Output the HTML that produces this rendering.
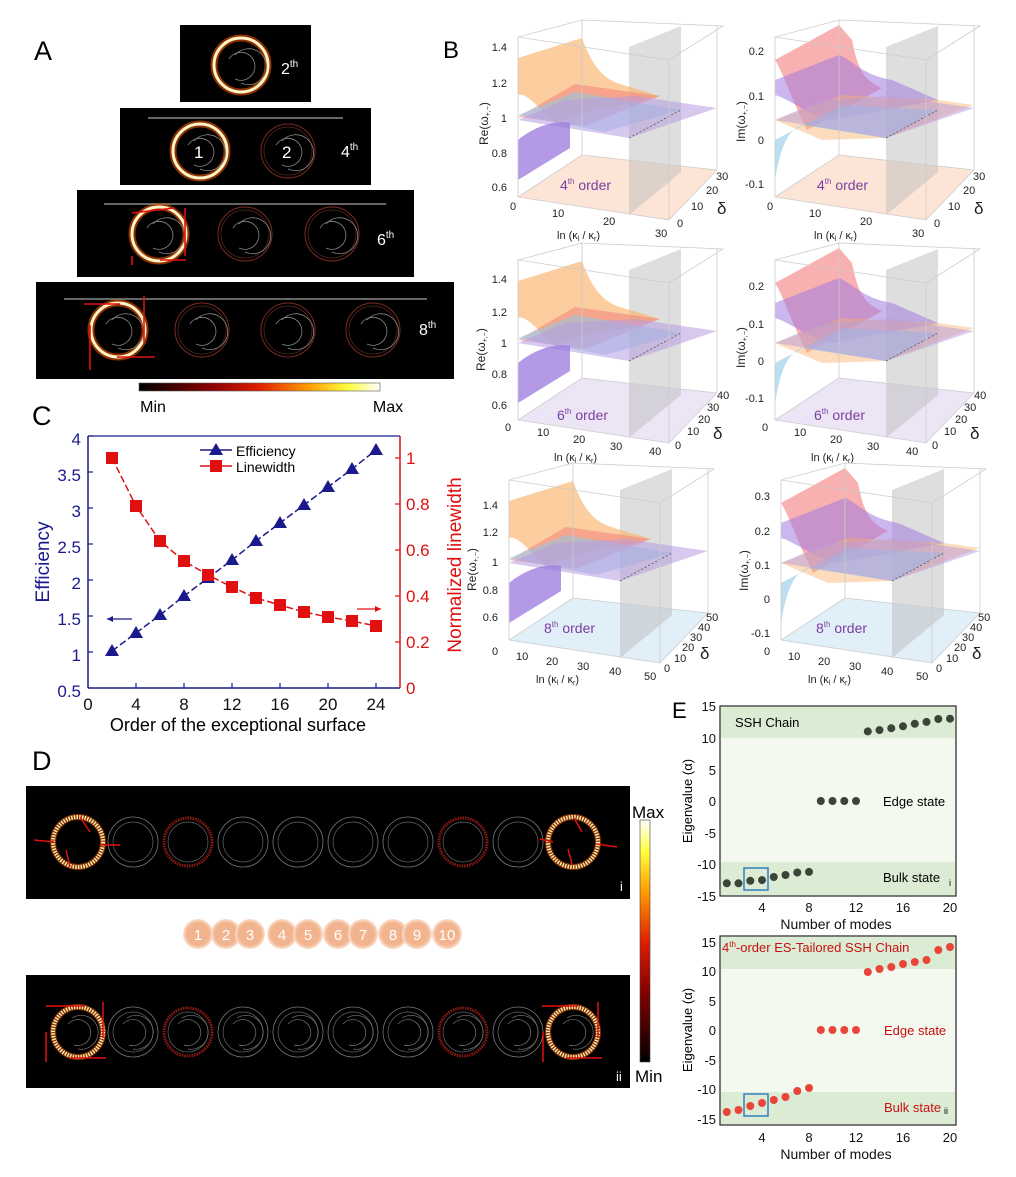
<!DOCTYPE html>
<html><head><meta charset="utf-8"><style>
html,body{margin:0;padding:0;background:#fff}
svg{display:block;font-family:"Liberation Sans",sans-serif}
</style></head><body>
<svg width="1016" height="1177" viewBox="0 0 1016 1177" xmlns="http://www.w3.org/2000/svg">
<defs>
<linearGradient id="hbar" x1="0" x2="1" y1="0" y2="0">
<stop offset="0" stop-color="#000"/><stop offset="0.3" stop-color="#8a0000"/><stop offset="0.5" stop-color="#e02000"/><stop offset="0.7" stop-color="#ff9a00"/><stop offset="0.87" stop-color="#ffff40"/><stop offset="1" stop-color="#fff"/></linearGradient>
<linearGradient id="vbar" x1="0" x2="0" y1="1" y2="0">
<stop offset="0" stop-color="#000"/><stop offset="0.3" stop-color="#8a0000"/><stop offset="0.5" stop-color="#e02000"/><stop offset="0.7" stop-color="#ff9a00"/><stop offset="0.87" stop-color="#ffff40"/><stop offset="1" stop-color="#fff"/></linearGradient>
<radialGradient id="pch"><stop offset="0.75" stop-color="#f2b48e"/><stop offset="1" stop-color="#fbe0cf"/></radialGradient>
<g id="box">
<path d="M63,177 L214,200 L262,150 M63,177 L127,135 L262,150 M127,135 L127,0 M63,177 L63,17 L127,0 L268,6 L214,40 L63,17 M214,40 L214,200 M262,6 L262,150" fill="none" stroke="#ccc" stroke-width="0.8"/>
</g>
<g id="gray"><path d="M174,195 L174,27 L226,6 L226,152 Z" fill="#bdbdbd" opacity="0.5"/></g>
<g id="reS">
<path d="M63,38 L127,18 C135,40 145,58 165,64 L205,76 L165,86 C140,88 120,95 100,103 C85,90 72,72 63,75 Z" fill="#f9b26b" opacity="0.65"/>
<path d="M63,97 L120,64 L205,76 L130,106 Z" fill="#f47c7c" opacity="0.5"/>
<path d="M63,95 L120,72 L226,90 L150,112 Z" fill="#8ec9e8" opacity="0.55"/>
<path d="M63,100 L174,118 L262,88 L180,76 L110,80 Z" fill="#b79ae0" opacity="0.55"/>
<path d="M63,160 L63,120 C80,106 100,100 115,103 L115,128 Z" fill="#9b77dd" opacity="0.75"/>
<path d="M174,118 L226,90" stroke="#555" stroke-width="0.8" stroke-dasharray="2,2"/>
</g>
<g id="imS">
<path d="M63,40 L127,5 L140,20 C145,45 150,60 170,68 L95,110 C80,80 70,50 63,40Z" fill="#f47c7c" opacity="0.6"/>
<path d="M63,60 L127,35 C140,40 150,55 180,60 L226,80 L120,100 C95,95 80,80 63,75Z" fill="#a07ae0" opacity="0.55"/>
<path d="M63,100 L130,75 L226,80 L262,85 L174,118 L110,120 Z" fill="#f9b26b" opacity="0.45"/>
<path d="M63,160 C68,130 75,110 90,105 L174,118 L226,90 L130,85 L63,120 Z" fill="#8ec9e8" opacity="0.6"/>
<path d="M63,100 L174,118 L262,88 L180,76 L110,80 Z" fill="#b79ae0" opacity="0.5"/>
<path d="M174,118 L226,90" stroke="#555" stroke-width="0.8" stroke-dasharray="2,2"/>
</g>
<g id="floorP"><path d="M63,177 L214,200 L262,150 L127,135 Z" fill="#fbd9c4" opacity="0.7"/></g>
<g id="floorV"><path d="M63,177 L214,200 L262,150 L127,135 Z" fill="#e4daf2" opacity="0.7"/></g>
<g id="floorB"><path d="M63,177 L214,200 L262,150 L127,135 Z" fill="#d9ebf8" opacity="0.8"/></g>
<g id="bright"><circle r="27" fill="none" stroke="#ff5a00" stroke-width="7" opacity="0.55"/><circle r="27" fill="none" stroke="#fff3c8" stroke-width="3"/><path d="M-12,-6 A14,14 0 1,1 -6,14" fill="none" stroke="#888" stroke-width="0.8"/><path d="M-6,-10 A18,18 0 1,1 0,18" fill="none" stroke="#888" stroke-width="0.8"/></g>
<g id="dim"><circle r="27" fill="none" stroke="#7a2a20" stroke-width="1"/><circle r="24" fill="none" stroke="#5a2a20" stroke-width="0.7"/><path d="M-12,-6 A14,14 0 1,1 -6,14" fill="none" stroke="#888" stroke-width="0.8"/><path d="M-6,-10 A18,18 0 1,1 0,18" fill="none" stroke="#888" stroke-width="0.8"/></g>
<g id="dgray"><circle r="25" fill="none" stroke="#777" stroke-width="0.8"/><circle r="20" fill="none" stroke="#666" stroke-width="0.7"/></g>
<g id="dred"><circle r="24" fill="none" stroke="#8a1a10" stroke-width="3" stroke-dasharray="1.5,1"/><circle r="20" fill="none" stroke="#666" stroke-width="0.7"/></g>
<g id="dbright"><circle r="25" fill="none" stroke="#ff6000" stroke-width="6" opacity="0.5"/><circle r="25" fill="none" stroke="#ffe9b0" stroke-width="4" stroke-dasharray="1.5,1.2"/></g>
<g id="dspiral"><path d="M-10,-8 A13,13 0 1,1 -4,13" fill="none" stroke="#777" stroke-width="0.7"/><path d="M-6,-14 A17,17 0 1,1 0,17" fill="none" stroke="#777" stroke-width="0.7"/></g>
</defs>

<!-- Panel A -->
<text x="34" y="60" font-size="27">A</text>
<rect x="180" y="25" width="131" height="77" fill="#000"/>
<rect x="120" y="108" width="251" height="77" fill="#000"/>
<rect x="77" y="190" width="337" height="87" fill="#000"/>
<rect x="36" y="282" width="418" height="97" fill="#000"/>
<use href="#bright" x="241" y="65"/>
<text x="281" y="74" fill="#fff" font-size="16">2<tspan dy="-7" font-size="10">th</tspan></text>
<line x1="148" y1="118" x2="343" y2="118" stroke="#888" stroke-width="1.5"/>
<use href="#bright" x="200" y="151"/><use href="#dim" x="288" y="151"/>
<text x="194" y="158" fill="#fff" font-size="17">1</text><text x="282" y="158" fill="#fff" font-size="17">2</text>
<text x="341" y="157" fill="#fff" font-size="16">4<tspan dy="-7" font-size="10">th</tspan></text>
<line x1="104" y1="204" x2="386" y2="204" stroke="#888" stroke-width="1.5"/>
<use href="#bright" x="159" y="234"/><use href="#dim" x="245" y="234"/><use href="#dim" x="332" y="234"/>
<text x="377" y="245" fill="#fff" font-size="16">6<tspan dy="-7" font-size="10">th</tspan></text>
<line x1="64" y1="299" x2="427" y2="299" stroke="#888" stroke-width="1.5"/>
<use href="#bright" x="118" y="330"/><use href="#dim" x="202" y="330"/><use href="#dim" x="288" y="330"/><use href="#dim" x="373" y="330"/>
<text x="419" y="335" fill="#fff" font-size="16">8<tspan dy="-7" font-size="10">th</tspan></text>
<g stroke="#e01010" stroke-width="1.6" fill="#e01010">
<line x1="132" y1="213" x2="174" y2="208"/><line x1="185" y1="208" x2="185" y2="256"/><line x1="132" y1="256" x2="132" y2="265"/><line x1="160" y1="260" x2="186" y2="260"/>
<line x1="84" y1="304" x2="120" y2="304"/><line x1="144" y1="296" x2="144" y2="343"/><line x1="90" y1="325" x2="90" y2="370"/><line x1="117" y1="357" x2="155" y2="357"/>
</g>
<rect x="139" y="383" width="241" height="8" fill="url(#hbar)" stroke="#555" stroke-width="0.6"/>
<text x="153" y="412" font-size="16" text-anchor="middle">Min</text>
<text x="388" y="412" font-size="16" text-anchor="middle">Max</text>

<!-- Panel B -->
<text x="443" y="58" font-size="24">B</text>
<g font-size="11" fill="#222">
<g transform="translate(455,20)"><use href="#floorP"/><use href="#gray"/><use href="#reS"/><use href="#box"/>
<text x="52" y="31" text-anchor="end">1.4</text><text x="52" y="67" text-anchor="end">1.2</text><text x="52" y="102" text-anchor="end">1</text><text x="52" y="137" text-anchor="end">0.8</text><text x="52" y="171" text-anchor="end">0.6</text>
<text x="55" y="190">0</text><text x="97" y="197">10</text><text x="148" y="205">20</text><text x="200" y="217">30</text><text x="222" y="207">0</text><text x="236" y="190">10</text><text x="251" y="174">20</text><text x="261" y="160">30</text>
<text x="262" y="194" font-size="17">δ</text><text x="102" y="219">ln (κ<tspan font-size="7" dy="2">l</tspan><tspan dy="-2"> / κ</tspan><tspan font-size="7" dy="2">r</tspan><tspan dy="-2">)</tspan></text>
<text transform="translate(33,125) rotate(-90)" font-size="12">Re(ω<tspan font-size="7" dy="2">+,−</tspan><tspan dy="-2">)</tspan></text>
<text x="105" y="170" font-size="14" fill="#7b3fa0">4<tspan font-size="8" dy="-6">th</tspan><tspan dy="6"> order</tspan></text></g>
<g transform="translate(712,20)"><use href="#floorP"/><use href="#gray"/><use href="#imS"/><use href="#box"/>
<text x="52" y="35" text-anchor="end">0.2</text><text x="52" y="80" text-anchor="end">0.1</text><text x="52" y="124" text-anchor="end">0</text><text x="52" y="168" text-anchor="end">-0.1</text>
<text x="55" y="190">0</text><text x="97" y="197">10</text><text x="148" y="205">20</text><text x="200" y="217">30</text><text x="222" y="207">0</text><text x="236" y="190">10</text><text x="251" y="174">20</text><text x="261" y="160">30</text>
<text x="262" y="194" font-size="17">δ</text><text x="102" y="219">ln (κ<tspan font-size="7" dy="2">l</tspan><tspan dy="-2"> / κ</tspan><tspan font-size="7" dy="2">r</tspan><tspan dy="-2">)</tspan></text>
<text transform="translate(33,122) rotate(-90)" font-size="12">Im(ω<tspan font-size="7" dy="2">+,−</tspan><tspan dy="-2">)</tspan></text>
<text x="105" y="170" font-size="14" fill="#7b3fa0">4<tspan font-size="8" dy="-6">th</tspan><tspan dy="6"> order</tspan></text></g>
<g transform="translate(455,243)"><use href="#floorV"/><use href="#gray"/><use href="#reS"/><use href="#box"/>
<text x="52" y="40" text-anchor="end">1.4</text><text x="52" y="73" text-anchor="end">1.2</text><text x="52" y="104" text-anchor="end">1</text><text x="52" y="135" text-anchor="end">0.8</text><text x="52" y="166" text-anchor="end">0.6</text>
<text x="50" y="188">0</text><text x="82" y="193">10</text><text x="118" y="200">20</text><text x="155" y="207">30</text><text x="194" y="212">40</text><text x="220" y="206">0</text><text x="232" y="192">10</text><text x="243" y="180">20</text><text x="252" y="168">30</text><text x="262" y="156">40</text>
<text x="258" y="196" font-size="17">δ</text><text x="99" y="218">ln (κ<tspan font-size="7" dy="2">l</tspan><tspan dy="-2"> / κ</tspan><tspan font-size="7" dy="2">r</tspan><tspan dy="-2">)</tspan></text>
<text transform="translate(30,128) rotate(-90)" font-size="12">Re(ω<tspan font-size="7" dy="2">+,−</tspan><tspan dy="-2">)</tspan></text>
<text x="102" y="177" font-size="14" fill="#7b3fa0">6<tspan font-size="8" dy="-6">th</tspan><tspan dy="6"> order</tspan></text></g>
<g transform="translate(712,243)"><use href="#floorV"/><use href="#gray"/><use href="#imS"/><use href="#box"/>
<text x="52" y="47" text-anchor="end">0.2</text><text x="52" y="85" text-anchor="end">0.1</text><text x="52" y="122" text-anchor="end">0</text><text x="52" y="159" text-anchor="end">-0.1</text>
<text x="50" y="188">0</text><text x="82" y="193">10</text><text x="118" y="200">20</text><text x="155" y="207">30</text><text x="194" y="212">40</text><text x="220" y="206">0</text><text x="232" y="192">10</text><text x="243" y="180">20</text><text x="252" y="168">30</text><text x="262" y="156">40</text>
<text x="258" y="196" font-size="17">δ</text><text x="99" y="218">ln (κ<tspan font-size="7" dy="2">l</tspan><tspan dy="-2"> / κ</tspan><tspan font-size="7" dy="2">r</tspan><tspan dy="-2">)</tspan></text>
<text transform="translate(33,125) rotate(-90)" font-size="12">Im(ω<tspan font-size="7" dy="2">+,−</tspan><tspan dy="-2">)</tspan></text>
<text x="102" y="177" font-size="14" fill="#7b3fa0">6<tspan font-size="8" dy="-6">th</tspan><tspan dy="6"> order</tspan></text></g>
<g transform="translate(446,463)"><use href="#floorB"/><use href="#gray"/><use href="#reS"/><use href="#box"/>
<text x="52" y="46" text-anchor="end">1.4</text><text x="52" y="73" text-anchor="end">1.2</text><text x="52" y="103" text-anchor="end">1</text><text x="52" y="131" text-anchor="end">0.8</text><text x="52" y="158" text-anchor="end">0.6</text>
<text x="46" y="192">0</text><text x="70" y="197">10</text><text x="100" y="202">20</text><text x="131" y="207">30</text><text x="163" y="212">40</text><text x="198" y="217">50</text><text x="218" y="209">0</text><text x="228" y="199">10</text><text x="236" y="188">20</text><text x="244" y="178">30</text><text x="252" y="168">40</text><text x="260" y="158">50</text>
<text x="254" y="196" font-size="17">δ</text><text x="90" y="220">ln (κ<tspan font-size="7" dy="2">l</tspan><tspan dy="-2"> / κ</tspan><tspan font-size="7" dy="2">r</tspan><tspan dy="-2">)</tspan></text>
<text transform="translate(30,128) rotate(-90)" font-size="12">Re(ω<tspan font-size="7" dy="2">+,−</tspan><tspan dy="-2">)</tspan></text>
<text x="98" y="170" font-size="14" fill="#7b3fa0">8<tspan font-size="8" dy="-6">th</tspan><tspan dy="6"> order</tspan></text></g>
<g transform="translate(718,463)"><use href="#floorB"/><use href="#gray"/><use href="#imS"/><use href="#box"/>
<text x="52" y="37" text-anchor="end">0.3</text><text x="52" y="72" text-anchor="end">0.2</text><text x="52" y="106" text-anchor="end">0.1</text><text x="52" y="140" text-anchor="end">0</text><text x="52" y="174" text-anchor="end">-0.1</text>
<text x="46" y="192">0</text><text x="70" y="197">10</text><text x="100" y="202">20</text><text x="131" y="207">30</text><text x="163" y="212">40</text><text x="198" y="217">50</text><text x="218" y="209">0</text><text x="228" y="199">10</text><text x="236" y="188">20</text><text x="244" y="178">30</text><text x="252" y="168">40</text><text x="260" y="158">50</text>
<text x="254" y="196" font-size="17">δ</text><text x="90" y="220">ln (κ<tspan font-size="7" dy="2">l</tspan><tspan dy="-2"> / κ</tspan><tspan font-size="7" dy="2">r</tspan><tspan dy="-2">)</tspan></text>
<text transform="translate(30,128) rotate(-90)" font-size="12">Im(ω<tspan font-size="7" dy="2">+,−</tspan><tspan dy="-2">)</tspan></text>
<text x="98" y="170" font-size="14" fill="#7b3fa0">8<tspan font-size="8" dy="-6">th</tspan><tspan dy="6"> order</tspan></text></g>
</g>

<!-- Panel C -->
<text x="32" y="425" font-size="27">C</text>
<line x1="88" y1="436" x2="400" y2="436" stroke="#1a1a8c" stroke-width="1.3"/>
<line x1="88" y1="436" x2="88" y2="688" stroke="#1a1a8c" stroke-width="1.5"/>
<line x1="88" y1="688" x2="400" y2="688" stroke="#1a1a8c" stroke-width="1.5"/>
<line x1="400" y1="436" x2="400" y2="688" stroke="#e01010" stroke-width="1.5"/>
<g stroke="#1a1a8c" stroke-width="1.2">
<line x1="88" y1="436" x2="93" y2="436"/><line x1="88" y1="472" x2="93" y2="472"/><line x1="88" y1="508" x2="93" y2="508"/><line x1="88" y1="544" x2="93" y2="544"/><line x1="88" y1="580" x2="93" y2="580"/><line x1="88" y1="616" x2="93" y2="616"/><line x1="88" y1="652" x2="93" y2="652"/>
<line x1="136" y1="688" x2="136" y2="683"/><line x1="184" y1="688" x2="184" y2="683"/><line x1="232" y1="688" x2="232" y2="683"/><line x1="280" y1="688" x2="280" y2="683"/><line x1="328" y1="688" x2="328" y2="683"/><line x1="376" y1="688" x2="376" y2="683"/>
</g>
<g stroke="#e01010" stroke-width="1.2"><line x1="400" y1="458" x2="395" y2="458"/><line x1="400" y1="504" x2="395" y2="504"/><line x1="400" y1="550" x2="395" y2="550"/><line x1="400" y1="596" x2="395" y2="596"/><line x1="400" y1="642" x2="395" y2="642"/></g>
<g fill="#1a1a8c" font-size="17" text-anchor="end">
<text x="81" y="445">4</text><text x="81" y="481">3.5</text><text x="81" y="517">3</text><text x="81" y="553">2.5</text><text x="81" y="589">2</text><text x="81" y="625">1.5</text><text x="81" y="661">1</text><text x="81" y="697">0.5</text></g>
<g font-size="17" text-anchor="middle" fill="#111">
<text x="88" y="710">0</text><text x="136" y="710">4</text><text x="184" y="710">8</text><text x="232" y="710">12</text><text x="280" y="710">16</text><text x="328" y="710">20</text><text x="376" y="710">24</text></g>
<g fill="#e01010" font-size="17"><text x="406" y="464">1</text><text x="406" y="510">0.8</text><text x="406" y="556">0.6</text><text x="406" y="602">0.4</text><text x="406" y="648">0.2</text><text x="406" y="694">0</text></g>
<text x="238" y="731" font-size="18" text-anchor="middle">Order of the exceptional surface</text>
<text transform="translate(49,562) rotate(-90)" font-size="19" fill="#1a1a8c" text-anchor="middle">Efficiency</text>
<text transform="translate(461,565) rotate(-90)" font-size="19" fill="#e01010" text-anchor="middle">Normalized linewidth</text>
<polyline points="112,651 136,633 160,615 184,596 208,578 232,560 256,541 280,523 304,505 328,487 352,469 376,450" fill="none" stroke="#1a1a8c" stroke-width="1.5" stroke-dasharray="7,3"/>
<g fill="#1a1a8c">
<path d="M112,644 l-7,12 h14z"/><path d="M136,626 l-7,12 h14z"/><path d="M160,608 l-7,12 h14z"/><path d="M184,589 l-7,12 h14z"/><path d="M208,571 l-7,12 h14z"/><path d="M232,553 l-7,12 h14z"/><path d="M256,534 l-7,12 h14z"/><path d="M280,516 l-7,12 h14z"/><path d="M304,498 l-7,12 h14z"/><path d="M328,480 l-7,12 h14z"/><path d="M352,462 l-7,12 h14z"/><path d="M376,443 l-7,12 h14z"/></g>
<polyline points="112,458 136,506 160,541 184,561 208,575 232,587 256,598 280,605 304,612 328,617 352,621 376,626" fill="none" stroke="#e01010" stroke-width="1.5" stroke-dasharray="7,3"/>
<g fill="#e01010">
<rect x="106" y="452" width="12" height="12"/><rect x="130" y="500" width="12" height="12"/><rect x="154" y="535" width="12" height="12"/><rect x="178" y="555" width="12" height="12"/><rect x="202" y="569" width="12" height="12"/><rect x="226" y="581" width="12" height="12"/><rect x="250" y="592" width="12" height="12"/><rect x="274" y="599" width="12" height="12"/><rect x="298" y="606" width="12" height="12"/><rect x="322" y="611" width="12" height="12"/><rect x="346" y="615" width="12" height="12"/><rect x="370" y="620" width="12" height="12"/></g>
<line x1="200" y1="450" x2="232" y2="450" stroke="#1a1a8c" stroke-width="1.5"/><path d="M216,443 l-7,12 h14z" fill="#1a1a8c"/>
<text x="236" y="456" font-size="14">Efficiency</text>
<line x1="200" y1="466" x2="232" y2="466" stroke="#e01010" stroke-width="1.5"/><rect x="210" y="460" width="12" height="12" fill="#e01010"/>
<text x="236" y="472" font-size="14">Linewidth</text>
<line x1="107" y1="619" x2="132" y2="619" stroke="#1a1a8c" stroke-width="1.2"/><path d="M107,619 l6,-3 v6z" fill="#1a1a8c"/>
<line x1="357" y1="609" x2="381" y2="609" stroke="#e01010" stroke-width="1.2"/><path d="M381,609 l-6,-3 v6z" fill="#e01010"/>

<!-- Panel D -->
<text x="32" y="770" font-size="27">D</text>
<rect x="26" y="786" width="604" height="113" fill="#000"/>
<rect x="26" y="975" width="604" height="113" fill="#000"/>
<g transform="translate(0,842)">
<use href="#dbright" x="78"/><use href="#dgray" x="133"/><use href="#dred" x="188"/><use href="#dgray" x="243"/><use href="#dgray" x="298"/><use href="#dgray" x="353"/><use href="#dgray" x="408"/><use href="#dred" x="463"/><use href="#dgray" x="518"/><use href="#dbright" x="573"/>
<g stroke="#e01010" stroke-width="1.5"><line x1="34" y1="-2" x2="54" y2="0"/><line x1="100" y1="3" x2="120" y2="3"/><line x1="80" y1="-25" x2="90" y2="-10"/><line x1="70" y1="25" x2="66" y2="8"/><line x1="540" y1="-3" x2="553" y2="0"/><line x1="597" y1="2" x2="617" y2="5"/><line x1="574" y1="-24" x2="582" y2="-10"/><line x1="572" y1="22" x2="568" y2="7"/></g>
</g>
<g transform="translate(0,1032)">
<use href="#dbright" x="78"/><use href="#dspiral" x="78"/><use href="#dgray" x="133"/><use href="#dspiral" x="133"/><use href="#dred" x="188"/><use href="#dspiral" x="188"/><use href="#dgray" x="243"/><use href="#dspiral" x="243"/><use href="#dgray" x="298"/><use href="#dspiral" x="298"/><use href="#dgray" x="353"/><use href="#dspiral" x="353"/><use href="#dgray" x="408"/><use href="#dspiral" x="408"/><use href="#dred" x="463"/><use href="#dspiral" x="463"/><use href="#dgray" x="518"/><use href="#dspiral" x="518"/><use href="#dbright" x="573"/><use href="#dspiral" x="573"/>
<g stroke="#e01010" stroke-width="1.5"><line x1="46" y1="-26" x2="84" y2="-26"/><line x1="103" y1="-30" x2="103" y2="6"/><line x1="46" y1="0" x2="46" y2="30"/><line x1="70" y1="26" x2="106" y2="26"/><line x1="542" y1="-26" x2="578" y2="-26"/><line x1="598" y1="-30" x2="598" y2="6"/><line x1="543" y1="0" x2="543" y2="30"/><line x1="567" y1="26" x2="602" y2="26"/></g>
</g>
<text x="620" y="891" fill="#fff" font-size="13">i</text>
<text x="616" y="1081" fill="#fff" font-size="13">ii</text>
<rect x="640" y="820" width="10" height="242" fill="url(#vbar)" stroke="#444" stroke-width="0.6"/>
<text x="632" y="818" font-size="17">Max</text>
<text x="635" y="1082" font-size="17">Min</text>
<g font-size="15" fill="#fff" text-anchor="middle">
<circle cx="198" cy="934" r="15" fill="url(#pch)"/><circle cx="226" cy="934" r="15" fill="url(#pch)"/><circle cx="250" cy="934" r="15" fill="url(#pch)"/><circle cx="282" cy="934" r="15" fill="url(#pch)"/><circle cx="308" cy="934" r="15" fill="url(#pch)"/><circle cx="338" cy="934" r="15" fill="url(#pch)"/><circle cx="363" cy="934" r="15" fill="url(#pch)"/><circle cx="393" cy="934" r="15" fill="url(#pch)"/><circle cx="417" cy="934" r="15" fill="url(#pch)"/><circle cx="447" cy="934" r="15" fill="url(#pch)"/>
<text x="198" y="940">1</text><text x="226" y="940">2</text><text x="250" y="940">3</text><text x="282" y="940">4</text><text x="308" y="940">5</text><text x="338" y="940">6</text><text x="363" y="940">7</text><text x="393" y="940">8</text><text x="417" y="940">9</text><text x="447" y="940">10</text></g>

<!-- Panel E -->
<text x="672" y="718" font-size="22">E</text>
<rect x="720" y="706" width="236" height="190" fill="#f4f9f0" stroke="#222" stroke-width="1.2"/>
<rect x="721" y="707" width="234" height="31" fill="#dcebd3"/>
<rect x="721" y="862" width="234" height="33" fill="#dcebd3"/>
<rect x="720" y="936" width="236" height="189" fill="#f4f9f0" stroke="#222" stroke-width="1.2"/>
<rect x="721" y="937" width="234" height="32" fill="#dcebd3"/>
<rect x="721" y="1092" width="234" height="32" fill="#dcebd3"/>
<g font-size="13" text-anchor="end" fill="#111">
<text x="716" y="711">15</text><text x="716" y="743">10</text><text x="716" y="775">5</text><text x="716" y="806">0</text><text x="716" y="838">-5</text><text x="716" y="869">-10</text><text x="716" y="901">-15</text>
<text x="716" y="947">15</text><text x="716" y="976">10</text><text x="716" y="1006">5</text><text x="716" y="1035">0</text><text x="716" y="1065">-5</text><text x="716" y="1094">-10</text><text x="716" y="1124">-15</text></g>
<g font-size="13" text-anchor="middle" fill="#111">
<text x="762" y="912">4</text><text x="809" y="912">8</text><text x="856" y="912">12</text><text x="903" y="912">16</text><text x="950" y="912">20</text>
<text x="762" y="1142">4</text><text x="809" y="1142">8</text><text x="856" y="1142">12</text><text x="903" y="1142">16</text><text x="950" y="1142">20</text>
<text x="836" y="929" font-size="14">Number of modes</text><text x="836" y="1159" font-size="14">Number of modes</text></g>
<text transform="translate(692,801) rotate(-90)" font-size="13" text-anchor="middle">Eigenvalue (α)</text>
<text transform="translate(692,1030) rotate(-90)" font-size="13" text-anchor="middle">Eigenvalue (α)</text>
<text x="735" y="727" font-size="13">SSH Chain</text>
<text x="883" y="806" font-size="13">Edge state</text>
<text x="883" y="882" font-size="13">Bulk state</text><text x="949" y="886" font-size="9">i</text>
<text x="722" y="952" font-size="13" fill="#c81010">4<tspan font-size="8" dy="-5">th</tspan><tspan dy="5">-order ES-Tailored SSH Chain</tspan></text>
<text x="884" y="1035" font-size="13" fill="#c81010">Edge state</text>
<text x="884" y="1112" font-size="13" fill="#c81010">Bulk state</text><text x="944" y="1114" font-size="9">ii</text>
<g fill="#3a4438">
<circle cx="726.8" cy="883.3" r="4"/><circle cx="738.5" cy="883.3" r="4"/><circle cx="750.3" cy="880.8" r="4"/><circle cx="762" cy="880.1" r="4"/><circle cx="773.8" cy="877" r="4"/><circle cx="785.5" cy="875" r="4"/><circle cx="797.3" cy="872.5" r="4"/><circle cx="809" cy="871.9" r="4"/>
<circle cx="820.8" cy="801" r="4"/><circle cx="832.5" cy="801" r="4"/><circle cx="844.3" cy="801" r="4"/><circle cx="856" cy="801" r="4"/>
<circle cx="867.8" cy="731.4" r="4"/><circle cx="879.5" cy="730.1" r="4"/><circle cx="891.3" cy="728.2" r="4"/><circle cx="903" cy="726.3" r="4"/><circle cx="914.8" cy="723.8" r="4"/><circle cx="926.5" cy="721.9" r="4"/><circle cx="938.3" cy="719" r="4"/><circle cx="950" cy="718.7" r="4"/></g>
<g fill="#e8463a">
<circle cx="726.8" cy="1112" r="4"/><circle cx="738.5" cy="1110" r="4"/><circle cx="750.3" cy="1106" r="4"/><circle cx="762" cy="1103" r="4"/><circle cx="773.8" cy="1100" r="4"/><circle cx="785.5" cy="1097" r="4"/><circle cx="797.3" cy="1091" r="4"/><circle cx="809" cy="1088" r="4"/>
<circle cx="820.8" cy="1030" r="4"/><circle cx="832.5" cy="1030" r="4"/><circle cx="844.3" cy="1030" r="4"/><circle cx="856" cy="1030" r="4"/>
<circle cx="867.8" cy="972" r="4"/><circle cx="879.5" cy="969" r="4"/><circle cx="891.3" cy="967" r="4"/><circle cx="903" cy="964" r="4"/><circle cx="914.8" cy="962" r="4"/><circle cx="926.5" cy="960" r="4"/><circle cx="938.3" cy="950" r="4"/><circle cx="950" cy="947" r="4"/></g>
<rect x="744" y="868" width="24" height="22" fill="none" stroke="#2f7fc0" stroke-width="1.5"/>
<rect x="744" y="1094" width="24" height="22" fill="none" stroke="#2f7fc0" stroke-width="1.5"/>
</svg>
</body></html>
